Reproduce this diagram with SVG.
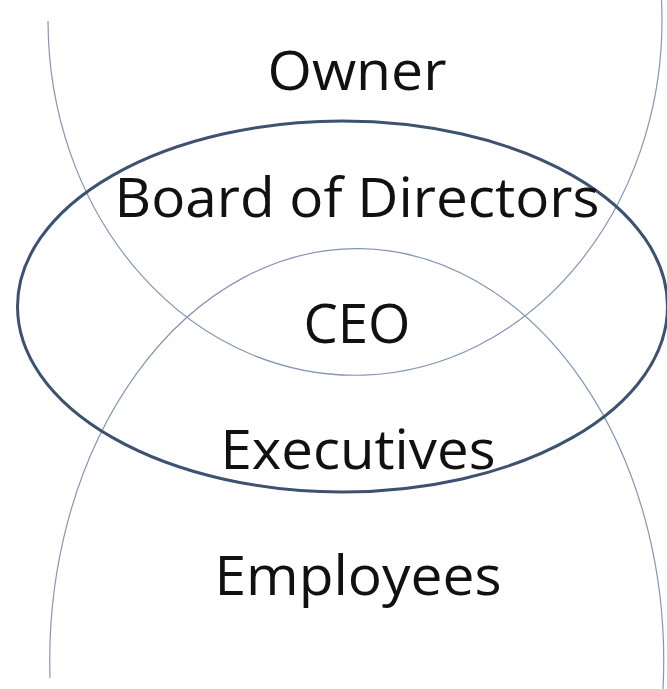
<svg xmlns="http://www.w3.org/2000/svg" width="667" height="689" viewBox="0 0 667 689">
<style>
.arc{fill:none;stroke:#8595b5;stroke-width:1.2}
.ell{fill:none;stroke:#3d5270;stroke-width:3}
.lbl{font-family:"Open Sans","Liberation Sans",sans-serif;font-size:55px;fill:#111;text-anchor:middle}
</style>
<rect width="667" height="689" fill="#ffffff"/>
<g id="shapes">
<path id="owner-arc" class="arc" d="M 48 21 A 307 355 0 1 0 661.5 0"/>
<path id="employees-arc" class="arc" d="M 50 678 A 307 412 0 1 1 663 689"/>
<ellipse id="board-ellipse" class="ell" cx="342.5" cy="306.5" rx="325" ry="185.5"/>
</g>
<g id="owner"><text class="lbl" x="357" y="90" textLength="179" lengthAdjust="spacingAndGlyphs">Owner</text></g>
<g id="board"><text class="lbl" x="357" y="217" textLength="485" lengthAdjust="spacingAndGlyphs">Board of Directors</text></g>
<g id="ceo"><text class="lbl" x="357" y="343" textLength="107" lengthAdjust="spacingAndGlyphs">CEO</text></g>
<g id="executives"><text class="lbl" x="358" y="469" textLength="275" lengthAdjust="spacingAndGlyphs">Executives</text></g>
<g id="employees"><text class="lbl" x="358" y="595" textLength="287" lengthAdjust="spacingAndGlyphs">Employees</text></g>
</svg>
